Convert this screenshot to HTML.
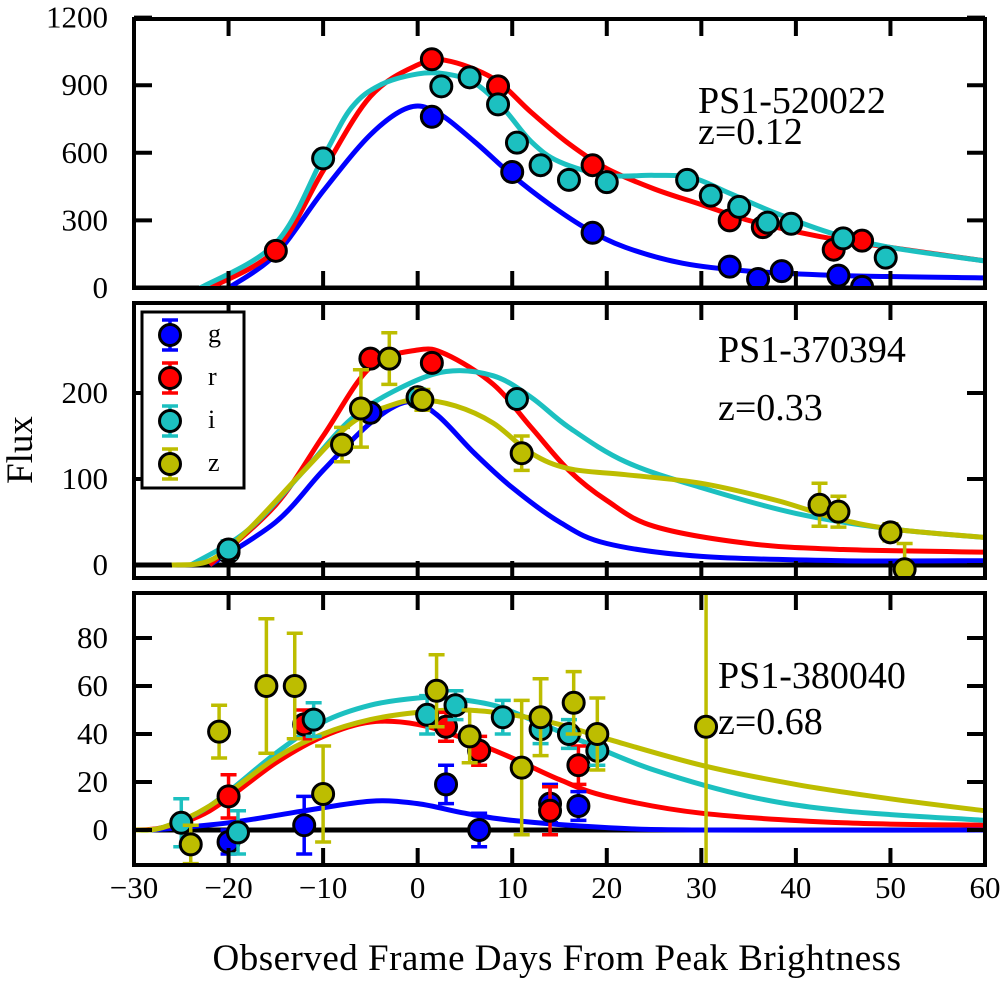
<!DOCTYPE html>
<html><head><meta charset="utf-8"><style>
body{margin:0;background:#fff}
svg text{font-family:"Liberation Serif",serif}
</style></head><body>
<svg id="c" width="1000" height="982" viewBox="0 0 1000 982" xmlns="http://www.w3.org/2000/svg"></svg>
<script>
const xTicks=[-30,-20,-10,0,10,20,30,40,50,60];
const p1Ticks=[0,300,600,900,1200];
const p2Ticks=[0,100,200];
const p3Ticks=[0,20,40,60,80];
// Panel 1 curves [day, flux]
const p1CurveG=[[-20,0],[-15,150],[-10,430],[-5,680],[-1,800],[2,780],[6,650],[10,500],[14,370],[18,260],[22,180],[28,110],[35,75],[45,55],[60,45]];
const p1CurveR=[[-22,0],[-15,170],[-10,520],[-5,850],[0,990],[3,1010],[8,930],[12,780],[16,640],[20,530],[25,440],[30,370],[35,300],[40,250],[45,210],[50,180],[60,120]];
const p1CurveI=[[-23,0],[-15,200],[-10,580],[-7,800],[-4,900],[0,950],[3,950],[6,910],[9,800],[12,650],[15,560],[20,500],[25,500],[29,490],[33,420],[38,330],[44,240],[50,180],[60,120]];
const p1PtsG=[[1.5,760],[10,515],[18.5,245],[33,95],[36,40],[38.5,75],[44.5,55],[47,5]];
const p1PtsR=[[-15,165],[1.5,1015],[8.5,895],[18.5,545],[33,300],[36.5,270],[44,170],[47,210]];
const p1PtsI=[[-10,575],[2.5,895],[5.5,935],[8.5,815],[10.5,645],[13,545],[16,480],[20,470],[28.5,480],[31,410],[34,360],[37,290],[39.5,285],[45,220],[49.5,135]];
// Panel 2
const p2CurveG=[[-22,0],[-15,50],[-10,110],[-5,165],[-1,190],[2,175],[6,130],[10,90],[15,50],[20,25],[30,10],[45,5],[60,5]];
const p2CurveR=[[-22,0],[-15,70],[-10,150],[-5,230],[0,250],[3,245],[8,210],[12,160],[16,110],[20,75],[25,45],[35,25],[45,18],[60,15]];
const p2CurveI=[[-24,0],[-18,40],[-12,110],[-7,170],[-2,205],[3,225],[8,220],[12,195],[16,160],[22,120],[30,90],[40,60],[50,42],[60,32]];
const p2CurveZ=[[-26,0],[-22,5],[-18,40],[-12,110],[-7,165],[-3,185],[0,192],[4,185],[8,165],[12,130],[16,112],[22,105],[30,95],[38,75],[44,55],[50,42],[60,32]];
const p2PtsG=[[-20,15,0],[-5,177,8],[0,195,8]];
const p2PtsR=[[-5,240,0],[-3,240,0],[1.5,235,0]];
const p2PtsI=[[-20,18,10],[0,195,10],[10.5,193,8]];
const p2PtsZ=[[-8,140,20],[-6,182,45],[-3,240,30],[0.5,192,12],[11,130,20],[42.5,70,25],[44.5,62,18],[50,38,10],[51.5,-5,30]];
// Panel 3
const p3CurveG=[[-28,0],[-20,3],[-12,8],[-5,12],[0,11],[5,7],[10,4],[20,1],[30,0],[60,0]];
const p3CurveR=[[-30,0],[-27,1],[-22,8],[-15,28],[-10,39],[-5,45],[0,44],[5,38],[10,30],[15,21],[20,14],[30,7],[45,3],[60,2]];
const p3CurveI=[[-30,0],[-27,1],[-22,10],[-15,32],[-10,45],[-5,52],[0,55],[3,55],[8,52],[12,46],[18,36],[25,25],[35,14],[45,8],[60,4]];
const p3CurveZ=[[-30,0],[-27,1],[-22,10],[-15,30],[-10,40],[-5,46],[0,49],[5,50],[10,48],[15,44],[20,38],[30,27],[40,19],[50,13],[60,8]];
const p3PtsG=[[-20,-5,5],[-12,2,12],[3,19,8],[6.5,0,7],[14,11,8],[17,10,6]];
const p3PtsR=[[-20,14,9],[-12,44,6],[3,43,6],[6.5,33,6],[14,8,10],[17,27,8]];
const p3PtsI=[[-25,3,10],[-19,-1,9],[-11,46,7],[1,48,8],[4,52,6],[9,47,7],[13,42,6],[16,40,6],[19,33,6]];
const p3PtsZ=[[-24,-6,8],[-21,41,11],[-16,60,28],[-13,60,22],[-10,15,20],[2,58,15],[5.5,39,11],[11,26,28],[13,47,16],[16.5,53,13],[19,40,15],[30.5,43,110]];

const C={g:'#0000ff',r:'#ff0000',i:'#1cc0c0',z:'#bdbd00'};
const svg=document.getElementById('c');const NS='http://www.w3.org/2000/svg';
function mk(t,a,p){const e=document.createElementNS(NS,t);for(const k in a)e.setAttribute(k,a[k]);(p||svg).appendChild(e);return e;}
const X0=134,X1=985;
const xs=d=>X0+(d+30)/90*(X1-X0);
const panels=[
 {top:19,bot:288,zero:288,ppu:67.6/300,ticks:p1Ticks,curves:{g:p1CurveG,r:p1CurveR,i:p1CurveI},pts:{g:p1PtsG,r:p1PtsR,i:p1PtsI},name:'PS1-520022',z:'z=0.12',ny:113,zy:144,nx:698},
 {top:303,bot:578,zero:565,ppu:0.86,ticks:p2Ticks,curves:{g:p2CurveG,r:p2CurveR,i:p2CurveI,z:p2CurveZ},pts:{g:p2PtsG,r:p2PtsR,i:p2PtsI,z:p2PtsZ},name:'PS1-370394',z:'z=0.33',ny:362,zy:420,nx:718},
 {top:593,bot:865,zero:830,ppu:2.4,ticks:p3Ticks,curves:{g:p3CurveG,r:p3CurveR,i:p3CurveI,z:p3CurveZ},pts:{g:p3PtsG,r:p3PtsR,i:p3PtsI,z:p3PtsZ},name:'PS1-380040',z:'z=0.68',ny:688,zy:734,nx:718}
];
function smooth(pts){let d='M'+pts[0][0]+','+pts[0][1];for(let k=0;k<pts.length-1;k++){const p0=pts[Math.max(0,k-1)],p1=pts[k],p2=pts[k+1],p3=pts[Math.min(pts.length-1,k+2)];
 const c1=[p1[0]+(p2[0]-p0[0])/6,p1[1]+(p2[1]-p0[1])/6],c2=[p2[0]-(p3[0]-p1[0])/6,p2[1]-(p3[1]-p1[1])/6];
 d+=' C'+c1[0]+','+c1[1]+' '+c2[0]+','+c2[1]+' '+p2[0]+','+p2[1];}return d;}
panels.forEach((P,pi)=>{
 const ys=v=>P.zero-v*P.ppu;
 const g=mk('g',{});
 const cp=mk('clipPath',{id:'cp'+pi},g);mk('rect',{x:X0,y:P.top,width:X1-X0,height:P.bot-P.top},cp);
 const plot=mk('g',{'clip-path':'url(#cp'+pi+')'},g);
 mk('line',{x1:X0,x2:X1,y1:P.zero,y2:P.zero,stroke:'#000','stroke-width':5},plot);
 for(const b in P.curves){const pth=mk('path',{d:smooth(P.curves[b].map(p=>[xs(p[0]),ys(p[1])])),fill:'none',stroke:C[b],'stroke-width':5,'stroke-linejoin':'round'},plot);
  }
 for(const b in P.pts){P.pts[b].forEach(p=>{const x=xs(p[0]),y=ys(p[1]);const e=p[2]||0;
  if(e>0){const eg=mk('g',{stroke:C[b],'stroke-width':3.5},plot);
   
   mk('line',{x1:x,x2:x,y1:ys(p[1]-e),y2:ys(p[1]+e)},eg);mk('line',{x1:x-8,x2:x+8,y1:ys(p[1]-e),y2:ys(p[1]-e)},eg);mk('line',{x1:x-8,x2:x+8,y1:ys(p[1]+e),y2:ys(p[1]+e)},eg);}
  const c=mk('circle',{cx:x,cy:y,r:10.5,fill:C[b],stroke:'#000','stroke-width':3},plot);
  });}
 mk('rect',{x:X0,y:P.top,width:X1-X0,height:P.bot-P.top,fill:'none',stroke:'#000','stroke-width':4},g);
 xTicks.forEach(t=>{const x=xs(t);mk('line',{x1:x,x2:x,y1:P.top,y2:P.top+17,stroke:'#000','stroke-width':4},g);mk('line',{x1:x,x2:x,y1:P.bot,y2:P.bot-17,stroke:'#000','stroke-width':4},g);});
 P.ticks.forEach(t=>{const y=ys(t);mk('line',{x1:X0,x2:X0+18,y1:y,y2:y,stroke:'#000','stroke-width':4},g);mk('line',{x1:X1,x2:X1-18,y1:y,y2:y,stroke:'#000','stroke-width':4},g);
  const tx=mk('text',{x:X0-26,y:y+10,'text-anchor':'end','font-size':31},g);tx.textContent=t;
  });
 const n=mk('text',{x:P.nx,y:P.ny,'font-size':38},g);n.textContent=P.name;
 const z=mk('text',{x:P.nx,y:P.zy,'font-size':38},g);z.textContent=P.z;
});
xTicks.forEach(t=>{const tx=mk('text',{x:xs(t),y:898,'text-anchor':'middle','font-size':31});tx.textContent=t<0?'\u2212'+(-t):t;
 });
const xt=mk('text',{x:557,y:970,'text-anchor':'middle','font-size':37,'letter-spacing':'0.5'});xt.textContent='Observed Frame Days From Peak Brightness';

const yt=mk('text',{x:0,y:0,'text-anchor':'middle','font-size':37,transform:'translate(32,450) rotate(-90)'});yt.textContent='Flux';

const lg=mk('g',{});
mk('rect',{x:142,y:312,width:102,height:176,fill:'#fff',stroke:'#000','stroke-width':3},lg);
['g','r','i','z'].forEach((b,k)=>{const y=335+k*43;const e=mk('g',{},lg);
 
 mk('line',{x1:170,x2:170,y1:y-15,y2:y+15,stroke:C[b],'stroke-width':3.5},e);
 mk('line',{x1:162,x2:178,y1:y-15,y2:y-15,stroke:C[b],'stroke-width':3.5},e);
 mk('line',{x1:162,x2:178,y1:y+15,y2:y+15,stroke:C[b],'stroke-width':3.5},e);
 mk('circle',{cx:170,cy:y,r:10.5,fill:C[b],stroke:'#000','stroke-width':3},e);
 const t=mk('text',{x:208,y:y+7,'font-size':26},e);t.textContent=b;});
</script>
</body></html>
